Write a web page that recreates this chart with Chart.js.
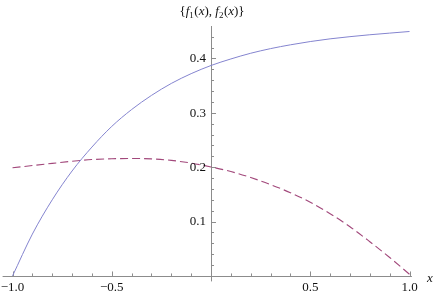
<!DOCTYPE html>
<html>
<head>
<meta charset="utf-8">
<script src="https://cdn.jsdelivr.net/npm/chart.js@4/dist/chart.umd.min.js"></script>
<style>
  html, body { margin: 0; padding: 0; background: #fff; }
</style>
</head>
<body>
<canvas id="plot" width="436" height="296"></canvas>
<script>
// sample points
const xs = [-1.0, -0.9, -0.8, -0.7, -0.6, -0.5, -0.4, -0.3, -0.2, -0.1, 0.0,
            0.1, 0.2, 0.3, 0.4, 0.5, 0.6, 0.7, 0.8, 0.9, 1.0];
const f1 = [0.000, 0.077, 0.140, 0.193, 0.237, 0.275, 0.306, 0.332, 0.354, 0.372, 0.387,
            0.399, 0.4095, 0.418, 0.425, 0.431, 0.436, 0.440, 0.4435, 0.4465, 0.4495];
const f2 = [0.199, 0.203, 0.207, 0.211, 0.214, 0.2155, 0.216, 0.2152, 0.2125, 0.2075, 0.2005,
            0.192, 0.181, 0.168, 0.153, 0.1355, 0.1145, 0.0905, 0.063, 0.034, 0.003];

const xMajor = [-1.0, -0.5, 0.5, 1.0];
const xMajorLabels = ["\u22121.0", "\u22120.5", "0.5", "1.0"];
const yMajor = [0.1, 0.2, 0.3, 0.4];
const yMajorLabels = ["0.1", "0.2", "0.3", "0.4"];

const AXIS = "#8c8c8c";
const SERIF = "'Liberation Serif', serif";

function pts(ys) {
  return xs.map((x, i) => ({ x: x, y: ys[i] }));
}

// axes through the origin, Mathematica style ticks, labels and title
const mmaAxes = {
  id: "mmaAxes",
  beforeDatasetsDraw(chart) {
    const ctx = chart.ctx;
    const xs_ = chart.scales.x;
    const ys_ = chart.scales.y;
    const area = chart.chartArea;
    const y0 = ys_.getPixelForValue(0);
    const x0 = xs_.getPixelForValue(0);
    ctx.save();
    ctx.strokeStyle = AXIS;
    ctx.lineWidth = 1;
    ctx.beginPath();
    ctx.moveTo(area.left, Math.round(y0) + 0.5);
    ctx.lineTo(area.right, Math.round(y0) + 0.5);
    ctx.moveTo(Math.round(x0) + 0.5, area.top);
    ctx.lineTo(Math.round(x0) + 0.5, area.bottom);
    ctx.stroke();

    // x ticks: minor every 0.1, major every 0.5
    ctx.beginPath();
    for (let i = -10; i <= 10; i++) {
      if (i === 0) continue;
      const px = Math.round(xs_.getPixelForValue(i / 10)) + 0.5;
      const len = i % 5 === 0 ? 4.5 : 2.5;
      ctx.moveTo(px, y0);
      ctx.lineTo(px, y0 - len);
    }
    // y ticks: minor every 0.02, major every 0.1
    for (let j = 1; j <= 22; j++) {
      const py = Math.round(ys_.getPixelForValue(j / 50)) + 0.5;
      const len = j % 5 === 0 ? 5 : 3;
      ctx.moveTo(x0, py);
      ctx.lineTo(x0 + len, py);
    }
    ctx.stroke();
    ctx.restore();
  },
  afterDatasetsDraw(chart) {
    const ctx = chart.ctx;
    const xs_ = chart.scales.x;
    const ys_ = chart.scales.y;
    const y0 = ys_.getPixelForValue(0);
    const x0 = xs_.getPixelForValue(0);
    ctx.save();
    ctx.fillStyle = "#111";
    ctx.font = "13px " + SERIF;
    ctx.textAlign = "center";
    ctx.textBaseline = "alphabetic";
    xMajor.forEach((v, i) => {
      ctx.fillText(xMajorLabels[i], xs_.getPixelForValue(v), y0 + 15.5);
    });
    ctx.textAlign = "right";
    ctx.textBaseline = "middle";
    yMajor.forEach((v, i) => {
      ctx.fillText(yMajorLabels[i], x0 - 5, ys_.getPixelForValue(v) + 0.5);
    });

    // axis label x
    ctx.font = "italic 13px " + SERIF;
    ctx.textAlign = "left";
    ctx.fillText("x", 427, y0 + 3);

    // title {f1(x), f2(x)}
    const parts = [
      ["{", 0], ["f", 1], ["1", 2], ["(", 0], ["x", 1], [")", 0], [", ", 0],
      ["f", 1], ["2", 2], ["(", 0], ["x", 1], [")", 0], ["}", 0]
    ];
    const fontFor = k => k === 1 ? "italic 13px " + SERIF : k === 2 ? "9px " + SERIF : "13px " + SERIF;
    let total = 0;
    parts.forEach(p => { ctx.font = fontFor(p[1]); total += ctx.measureText(p[0]).width + (p[1] === 2 ? 0.5 : 0); });
    let cx = x0 - total / 2 + 1;
    const base = 15;
    ctx.textBaseline = "alphabetic";
    parts.forEach(p => {
      ctx.font = fontFor(p[1]);
      ctx.fillText(p[0], cx, p[1] === 2 ? base + 3 : base);
      cx += ctx.measureText(p[0]).width + (p[1] === 2 ? 0.5 : 0);
    });
    ctx.restore();
  }
};

const chart = new Chart(document.getElementById("plot").getContext("2d"), {
  type: "scatter",
  data: {
    datasets: [
      {
        label: "f1",
        data: pts(f1),
        showLine: true,
        borderColor: "#8484cf",
        borderWidth: 1,
        pointRadius: 0,
        cubicInterpolationMode: "monotone",
      },
      {
        label: "f2",
        data: pts(f2),
        showLine: true,
        borderColor: "#a2487b",
        borderWidth: 1.1,
        borderDash: [8, 4],
        pointRadius: 0,
        cubicInterpolationMode: "monotone",
      },
    ],
  },
  options: {
    responsive: false,
    devicePixelRatio: 1,
    animation: false,
    layout: { padding: { left: 2.6, right: 24.1, top: 26, bottom: 14.6 } },
    scales: {
      x: { type: "linear", min: -1.05, max: 1.012, display: false },
      y: { type: "linear", min: -0.01, max: 0.4596, display: false },
    },
    plugins: {
      legend: { display: false },
      tooltip: { enabled: false },
    },
  },
  plugins: [mmaAxes],
});
</script>
</body>
</html>
